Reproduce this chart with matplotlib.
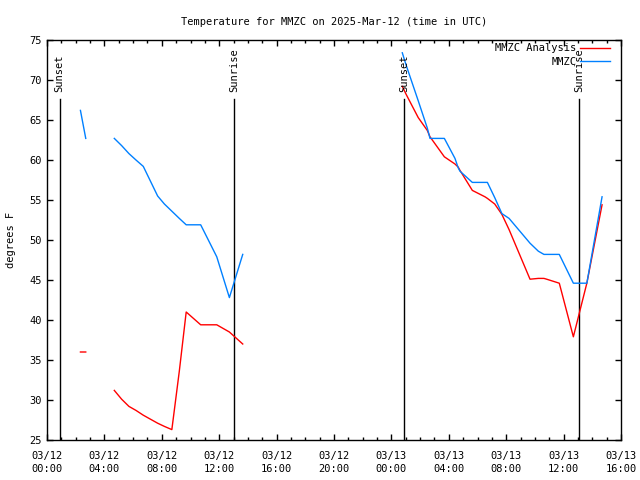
import numpy as np
import matplotlib
matplotlib.use('Agg')
import matplotlib.pyplot as plt
from matplotlib.ticker import FixedLocator, MultipleLocator

# hours since 2025-03-12 00:00 UTC, NaN = gap in the record
nan = np.nan
obs_hours = [2.33, 2.70, nan,
             4.69, 5.20, 5.71, 6.20, 6.71, 7.71, 8.18, 8.70, 9.22, 9.70,
             10.71, 11.83, 12.71, 13.64, nan,
             24.76, 25.00, 25.87, 26.50, 26.69, 27.69, 28.43, 28.66, 28.78,
             29.64, 30.52, 30.69, 31.20, 31.70, 32.20, 33.66, 34.24, 34.63,
             34.82, 35.70, 36.68, 37.62, 38.68]
mmzc = [66.2, 62.7, nan,
        62.7, 61.8, 60.8, 60.0, 59.2, 55.5, 54.5, 53.6, 52.7, 51.9,
        51.9, 47.9, 42.8, 48.2, nan,
        73.4, 72.0, 67.4, 64.0, 62.7, 62.7, 60.2, 59.0, 58.6,
        57.2, 57.2, 57.2, 55.3, 53.3, 52.7, 49.6, 48.6, 48.2,
        48.2, 48.2, 44.6, 44.6, 55.4]
analysis = [36.0, 36.0, nan,
            31.2, 30.1, 29.2, 28.7, 28.1, 27.1, 26.7, 26.3, 33.6, 41.0,
            39.4, 39.4, 38.5, 37.0, nan,
            69.2, 68.3, 65.3, 63.7, 62.9, 60.4, 59.5, 59.1, 58.7,
            56.2, 55.4, 55.2, 54.5, 53.2, 51.3, 45.1, 45.2, 45.2,
            45.1, 44.6, 37.9, 44.6, 54.4]

sun_hours = [0.88, 13.05, 24.90, 37.10]
sun_labels = ['Sunset', 'Sunrise', 'Sunset', 'Sunrise']

xtick_hours = list(range(0, 41, 4))
xtick_labels = ['03/12\n00:00', '03/12\n04:00', '03/12\n08:00', '03/12\n12:00',
                '03/12\n16:00', '03/12\n20:00', '03/13\n00:00', '03/13\n04:00',
                '03/13\n08:00', '03/13\n12:00', '03/13\n16:00']

plt.rcParams['font.family'] = 'DejaVu Sans Mono'
plt.rcParams['font.size'] = 7.5

fig = plt.figure(figsize=(6.4, 4.8), dpi=100)
ax = fig.add_axes([47/640, 40/480, 574/640, 400/480])

for h, lab in zip(sun_hours, sun_labels):
    ax.plot([h, h], [25, 67.6], color='black', lw=1)
    ax.text(h, 68.5, lab, rotation=90, ha='center', va='bottom', fontsize=7.5)

ax.plot(obs_hours, analysis, color='#ff0000', lw=1, label='MMZC Analysis')
ax.plot(obs_hours, mmzc, color='#0080ff', lw=1, label='MMZC')

ax.set_xlim(0, 40)
ax.set_ylim(25, 75)
ax.xaxis.set_major_locator(FixedLocator(xtick_hours))
ax.set_xticklabels(xtick_labels)
for lab in ax.get_xticklabels():
    lab.set_linespacing(1.4)
ax.xaxis.set_minor_locator(MultipleLocator(1))
ax.yaxis.set_major_locator(MultipleLocator(5))
ax.tick_params(which='both', direction='in', top=True, right=True, width=1)
ax.tick_params(which='major', length=4.5)
ax.tick_params(axis='x', which='major', pad=8)
ax.tick_params(which='minor', length=2.3)
for s in ax.spines.values():
    s.set_linewidth(1)

ax.set_ylabel('degrees F', labelpad=10)
ax.set_title('Temperature for MMZC on 2025-Mar-12 (time in UTC)', fontsize=7.5, pad=11)

ax.legend(loc='upper right', bbox_to_anchor=(0.981, 0.992), frameon=False,
          markerfirst=False, handlelength=2.9, handletextpad=0.35,
          labelspacing=0.35, borderpad=0, borderaxespad=0, fontsize=7.5)

fig.savefig('out.png', dpi=100)
